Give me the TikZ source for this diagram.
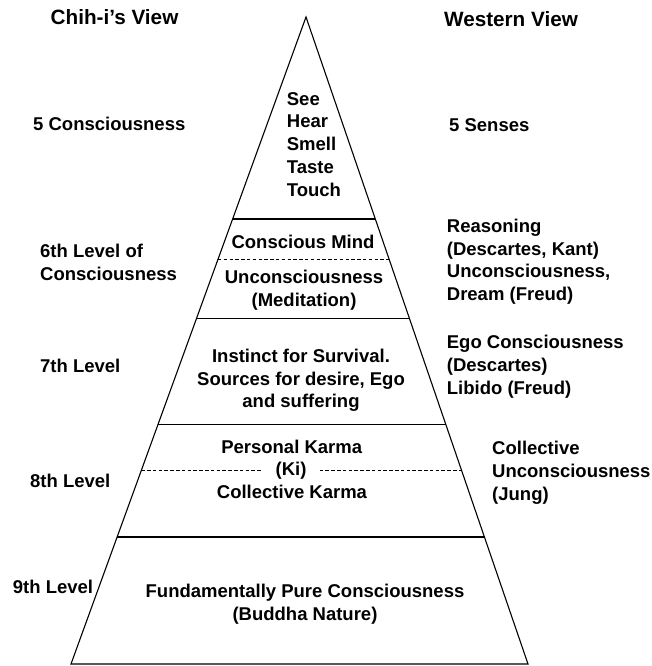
\documentclass[tikz,border=0pt]{standalone}
\usepackage{fontspec}
\setmainfont{Liberation Sans}
\usetikzlibrary{calc}
\begin{document}
\begin{tikzpicture}[x=1pt,y=-1pt,
  txt/.style={font=\fontsize{18.5}{22.8}\selectfont\bfseries, inner sep=0pt},
  lefttxt/.style={txt, align=left, anchor=north west},
  midtxt/.style={txt, align=center, anchor=north},
  ttl/.style={font=\fontsize{20.7}{24}\selectfont\bfseries, inner sep=0pt, anchor=base},
  side/.style={line width=1.1pt, line join=miter},
  tier/.style={line width=1.1pt},
  dotsep/.style={line width=0.6pt, dash pattern=on 3.5pt off 2.3pt}]
\useasboundingbox (0,0) rectangle (652,666);
% pyramid
\coordinate (A) at (306,17);
\coordinate (BL) at (71,664);
\coordinate (BR) at (528,664);
\draw[side] (BL) -- (A) -- (BR) -- cycle;
\foreach \y/\n in {219/1, 318.5/2, 424.5/3, 537/4} {
  \coordinate (L\n) at ($(A)!{(\y-17)/647}!(BL)$);
  \coordinate (R\n) at ($(A)!{(\y-17)/647}!(BR)$);
  \draw[tier] (L\n) -- (R\n);
}
\coordinate (DL1) at ($(A)!{(259.5-17)/647}!(BL)$);
\coordinate (DR1) at ($(A)!{(259.5-17)/647}!(BR)$);
\coordinate (DL2) at ($(A)!{(470.7-17)/647}!(BL)$);
\coordinate (DR2) at ($(A)!{(470.7-17)/647}!(BR)$);
\draw[dotsep] (DL1) -- (DR1);
% titles
\node[ttl] (t1) at (114.5,25) {Chih-i’s View};
\node[ttl] (t2) at (511,27) {Western View};
% left column
\node[lefttxt] (c5) at (33,117) {5 Consciousness};
\node[lefttxt] (c6) at (40,243.7) {6th Level of\\Consciousness};
\node[lefttxt] (c7) at (40,358.7) {7th Level};
\node[lefttxt] (c8) at (30,473.7) {8th Level};
\node[lefttxt] (c9) at (12.7,579.7) {9th Level};
% right column
\node[lefttxt] (w5) at (449,118) {5 Senses};
\node[lefttxt] (w6) at (446.7,218.7) {Reasoning\\(Descartes, Kant)\\Unconsciousness,\\Dream (Freud)};
\node[lefttxt] (w7) at (446.7,335.3) {Ego Consciousness\\(Descartes)\\Libido (Freud)};
\node[lefttxt] (w8) at (492,441) {Collective\\Unconsciousness\\(Jung)};
% inside pyramid
\node[lefttxt] (senses) at (286.7,92) {See\\Hear\\Smell\\Taste\\Touch};
\node[midtxt] (cmind) at (303,235) {Conscious Mind};
\node[midtxt] (ucons) at (304,270) {Unconsciousness\\(Meditation)};
\node[midtxt] (inst) at (301,348.7) {Instinct for Survival.\\Sources for desire, Ego\\and suffering};
\node[midtxt] (pk) at (291.7,440.3) {Personal Karma};
\node[txt, anchor=base, inner xsep=13pt] (ki) at (291,475) {(Ki)};
\node[midtxt] (ck) at (292,485.3) {Collective Karma};
\node[midtxt] (fund) at (305,583.7) {Fundamentally Pure Consciousness\\(Buddha Nature)};
\draw[dotsep] (DL2) -- (DL2 -| ki.west);
\draw[dotsep] (DR2 -| ki.east) -- (DR2);
\end{tikzpicture}
\end{document}
